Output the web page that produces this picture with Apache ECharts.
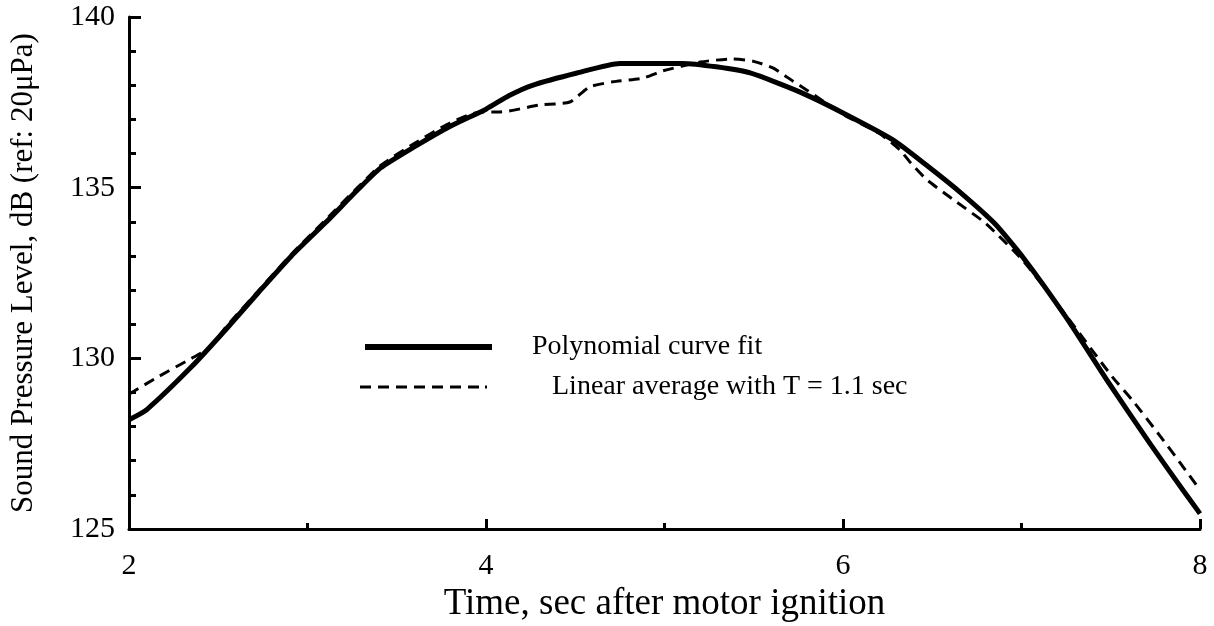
<!DOCTYPE html>
<html>
<head>
<meta charset="utf-8">
<script src="https://cdn.jsdelivr.net/npm/echarts@6/dist/echarts.min.js"></script>
<style>
html,body{margin:0;padding:0;background:#fff;}
#chart{width:1214px;height:626px;}
</style>
</head>
<body>
<div id="chart"></div>
<script>
// Polynomial curve fit (solid)
const polyX = [2.0, 2.1, 2.35, 2.54, 2.72, 2.91, 3.10, 3.28, 3.41, 3.6, 3.8, 4.0, 4.13, 4.26, 4.51, 4.75, 5.1, 5.29, 5.48, 5.76, 6.0, 6.28, 6.47, 6.66, 6.85, 7.01, 7.25, 7.48, 7.72, 7.91, 8.0];
const polyY = [128.2, 128.5, 129.75, 130.83, 131.9, 133.0, 133.97, 134.93, 135.58, 136.2, 136.8, 137.3, 137.7, 138.0, 138.36, 138.64, 138.64, 138.54, 138.36, 137.8, 137.19, 136.4, 135.65, 134.85, 133.95, 132.95, 131.2, 129.35, 127.5, 126.1, 125.45];
// Linear average with T = 1.1 sec (dashed)
const avgX = [2.0, 2.16, 2.35, 2.45, 2.54, 2.72, 2.91, 3.10, 3.28, 3.41, 3.6, 3.8, 3.97, 4.08, 4.30, 4.47, 4.58, 4.71, 4.88, 4.99, 5.2, 5.38, 5.5, 5.61, 5.72, 5.8, 6.0, 6.2, 6.32, 6.38, 6.47, 6.62, 6.8, 7.01, 7.25, 7.51, 7.62, 7.78, 7.89, 8.0];
const avgY = [128.95, 129.45, 130.0, 130.3, 130.9, 131.95, 133.05, 134.05, 135.0, 135.65, 136.3, 136.9, 137.22, 137.22, 137.42, 137.51, 137.95, 138.1, 138.21, 138.42, 138.68, 138.77, 138.7, 138.5, 138.12, 137.85, 137.15, 136.6, 136.1, 135.72, 135.23, 134.64, 133.95, 132.85, 131.25, 129.45, 128.78, 127.7, 126.93, 126.14];
const seriesNames = ['Polynomial curve fit', 'Linear average with T = 1.1 sec'];
const xTitle = 'Time, sec after motor ignition';
const yTitle = 'Sound Pressure Level, dB (ref: 20\u03BCPa)';

const FONT = "'Liberation Serif', 'Times New Roman', serif";
const zip = (xs, ys) => xs.map((x, i) => [x, ys[i]]);

// legend sample icons (solid bar, dashed bar)
const solidIcon = 'path://M0,0H127V6H0Z';
const dashIcon = 'path://M0,0h11v3h-11z M18,0h11v3h-11z M36,0h11v3h-11z M54,0h11v3h-11z M72,0h11v3h-11z M90,0h11v3h-11z M108,0h11v3h-11z M125,0h2v3h-2z';

const chart = echarts.init(document.getElementById('chart'), null, {renderer: 'canvas'});
chart.setOption({
  backgroundColor: '#ffffff',
  animation: false,
  textStyle: {fontFamily: FONT, color: '#000'},
  grid: {left: 129, right: 14, top: 17, bottom: 97, containLabel: false, outerBoundsMode: 'none'},
  legend: [
    {
      data: [{name: seriesNames[0], icon: solidIcon}], left: 365, top: 331, padding: 0,
      itemWidth: 127, itemHeight: 6,
      itemStyle: {color: '#000'},
      textStyle: {fontFamily: FONT, fontSize: 28, lineHeight: 32, color: '#000', padding: [0, 0, 0, 35]}
    },
    {
      data: [{name: seriesNames[1], icon: dashIcon}], left: 360, top: 371, padding: 0,
      itemWidth: 127, itemHeight: 3,
      itemStyle: {color: '#000'},
      textStyle: {fontFamily: FONT, fontSize: 28, lineHeight: 32, color: '#000', padding: [0, 0, 0, 60]}
    }
  ],
  xAxis: {
    type: 'value', min: 2, max: 8, interval: 2,
    name: xTitle, nameLocation: 'middle', nameGap: 40,
    nameTextStyle: {fontFamily: FONT, fontSize: 37, color: '#000'},
    axisLine: {show: true, onZero: false, lineStyle: {color: '#000', width: 3}},
    axisTick: {show: true, inside: true, length: 10, lineStyle: {color: '#000', width: 3}},
    minorTick: {show: true, splitNumber: 2, length: 6, lineStyle: {color: '#000', width: 3}},
    axisLabel: {fontFamily: FONT, fontSize: 30, color: '#000', margin: 22},
    splitLine: {show: false}
  },
  yAxis: {
    type: 'value', min: 125, max: 140, interval: 5,
    name: yTitle, nameLocation: 'middle', nameGap: 90,
    nameTextStyle: {fontFamily: FONT, fontSize: 31, color: '#000'},
    axisLine: {show: true, onZero: false, lineStyle: {color: '#000', width: 3}},
    axisTick: {show: true, inside: true, length: 12, lineStyle: {color: '#000', width: 3}},
    minorTick: {show: true, splitNumber: 5, length: 7, lineStyle: {color: '#000', width: 3}},
    axisLabel: {fontFamily: FONT, fontSize: 30, color: '#000', margin: 14, padding: [16, 0, 0, 0]},
    splitLine: {show: false}
  },
  series: [
    {
      name: seriesNames[0], type: 'line', data: zip(polyX, polyY),
      symbol: 'none', smooth: 0.2, z: 3,
      lineStyle: {color: '#000', width: 5},
      itemStyle: {color: '#000'}
    },
    {
      name: seriesNames[1], type: 'line', data: zip(avgX, avgY),
      symbol: 'none', smooth: 0.2, z: 2,
      lineStyle: {color: '#000', width: 3, type: [11, 7]},
      itemStyle: {color: '#000'}
    }
  ]
});
</script>
</body>
</html>
